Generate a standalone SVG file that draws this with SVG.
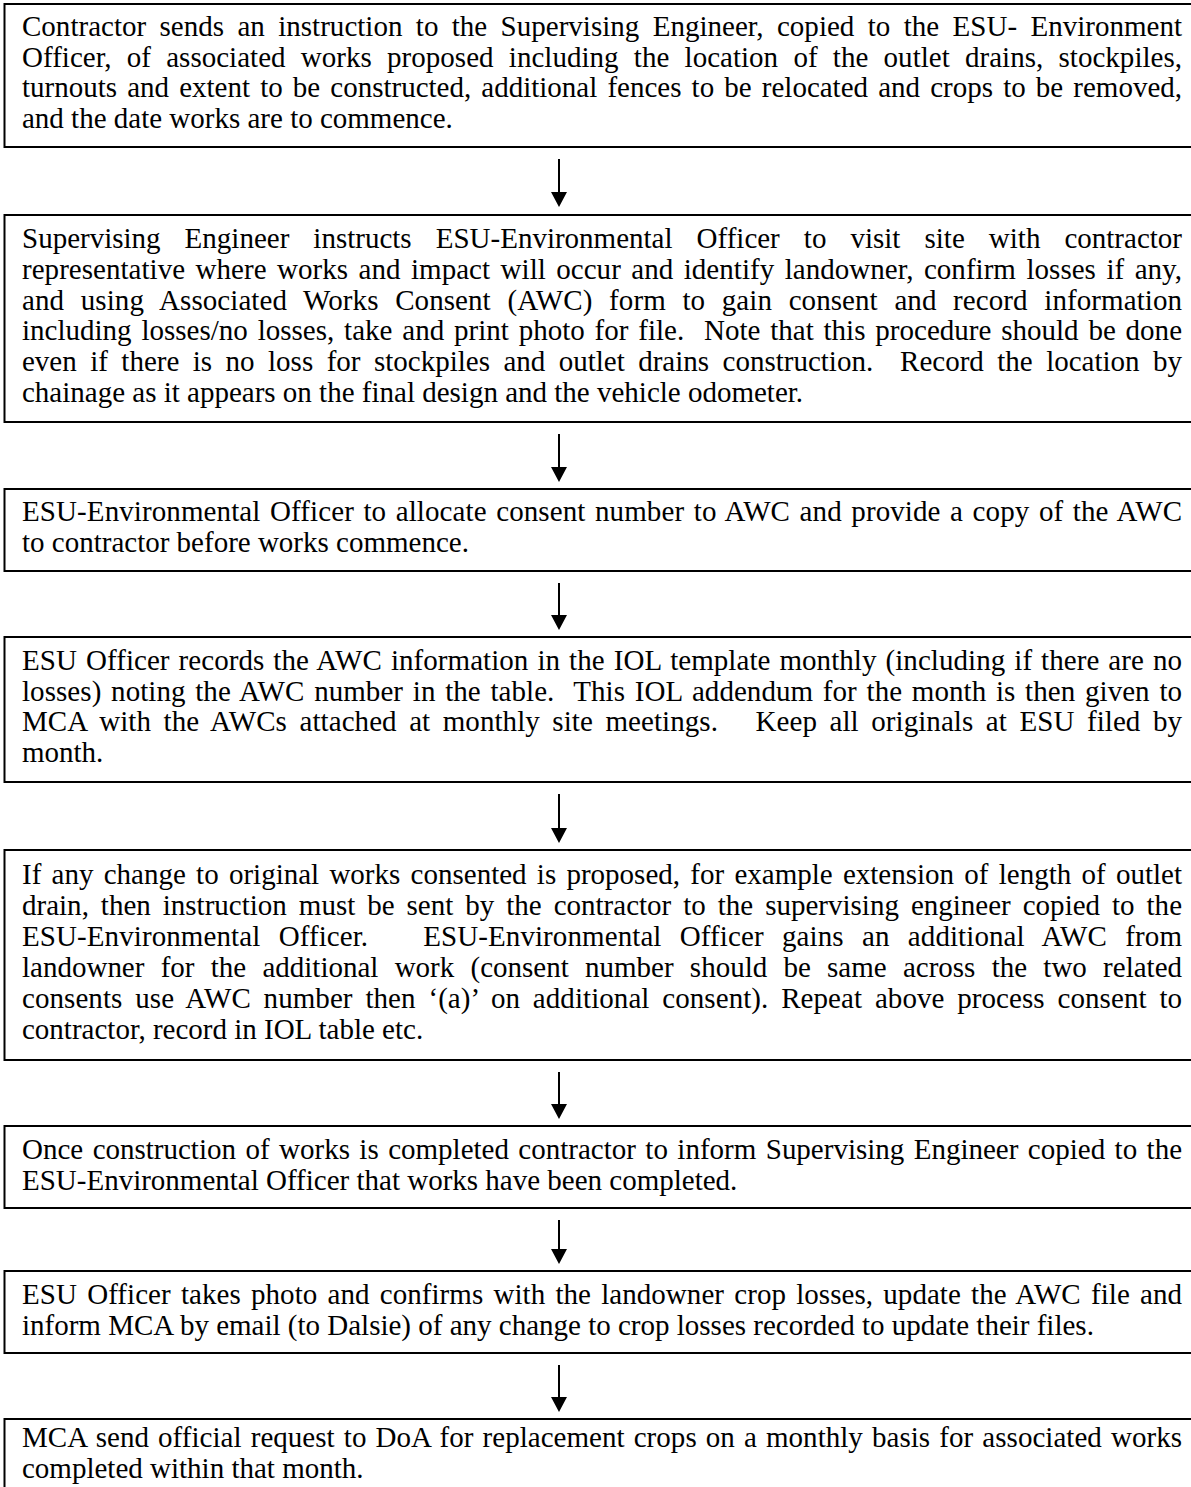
<svg xmlns="http://www.w3.org/2000/svg" width="1191" height="1487" viewBox="0 0 1191 1487">
<style>
.box{fill:#fff;stroke:#000;stroke-width:2}
.t{font-family:"Liberation Serif","Times New Roman",serif;font-size:29px;fill:#000}
.c line{stroke:#000;stroke-width:2}
.c path{fill:#000;stroke:none}
</style>
<rect width="1191" height="1487" fill="#fff"/>
<g id="node1">
<rect class="box" x="4.5" y="4" width="1200" height="143"/>
<text class="t" x="22" y="36" word-spacing="6.1" textLength="1160" lengthAdjust="spacing">Contractor sends an instruction to the Supervising Engineer, copied to the ESU- Environment</text>
<text class="t" x="22" y="66.6" word-spacing="8" textLength="1160" lengthAdjust="spacing">Officer, of associated works proposed including the location of the outlet drains, stockpiles,</text>
<text class="t" x="22" y="97.2" word-spacing="2.9" textLength="1160" lengthAdjust="spacing">turnouts and extent to be constructed, additional fences to be relocated and crops to be removed,</text>
<text class="t" x="22" y="127.8">and the date works are to commence.</text>
</g>
<g id="node2">
<rect class="box" x="4.5" y="215" width="1200" height="207"/>
<text class="t" x="22" y="248" word-spacing="16.8" textLength="1160" lengthAdjust="spacing">Supervising Engineer instructs ESU-Environmental Officer to visit site with contractor</text>
<text class="t" x="22" y="278.8" word-spacing="3.2" textLength="1160" lengthAdjust="spacing">representative where works and impact will occur and identify landowner, confirm losses if any,</text>
<text class="t" x="22" y="309.6" word-spacing="9.3" textLength="1160" lengthAdjust="spacing">and using Associated Works Consent (AWC) form to gain consent and record information</text>
<text class="t" x="22" y="340.4" word-spacing="2.6" textLength="1160" lengthAdjust="spacing">including losses/no losses, take and print photo for file.&#160; Note that this procedure should be done</text>
<text class="t" x="22" y="371.2" word-spacing="6.2" textLength="1160" lengthAdjust="spacing">even if there is no loss for stockpiles and outlet drains construction.&#160; Record the location by</text>
<text class="t" x="22" y="402">chainage as it appears on the final design and the vehicle odometer.</text>
</g>
<g id="node3">
<rect class="box" x="4.5" y="489" width="1200" height="82"/>
<text class="t" x="22" y="521" word-spacing="2.2" textLength="1160" lengthAdjust="spacing">ESU-Environmental Officer to allocate consent number to AWC and provide a copy of the AWC</text>
<text class="t" x="22" y="551.6">to contractor before works commence.</text>
</g>
<g id="node4">
<rect class="box" x="4.5" y="637" width="1200" height="145"/>
<text class="t" x="22" y="670" word-spacing="1.7" textLength="1160" lengthAdjust="spacing">ESU Officer records the AWC information in the IOL template monthly (including if there are no</text>
<text class="t" x="22" y="700.7" word-spacing="2.4" textLength="1160" lengthAdjust="spacing">losses) noting the AWC number in the table.&#160; This IOL addendum for the month is then given to</text>
<text class="t" x="22" y="731.4" word-spacing="5.2" textLength="1160" lengthAdjust="spacing">MCA with the AWCs attached at monthly site meetings.&#160;&#160; Keep all originals at ESU filed by</text>
<text class="t" x="22" y="762.1">month.</text>
</g>
<g id="node5">
<rect class="box" x="4.5" y="850" width="1200" height="210"/>
<text class="t" x="22" y="884" word-spacing="3" textLength="1160" lengthAdjust="spacing">If any change to original works consented is proposed, for example extension of length of outlet</text>
<text class="t" x="22" y="915" word-spacing="4.7" textLength="1160" lengthAdjust="spacing">drain, then instruction must be sent by the contractor to the supervising engineer copied to the</text>
<text class="t" x="22" y="946" word-spacing="11" textLength="1160" lengthAdjust="spacing">ESU-Environmental Officer.&#160;&#160; ESU-Environmental Officer gains an additional AWC from</text>
<text class="t" x="22" y="977" word-spacing="9" textLength="1160" lengthAdjust="spacing">landowner for the additional work (consent number should be same across the two related</text>
<text class="t" x="22" y="1008" word-spacing="5.5" textLength="1160" lengthAdjust="spacing">consents use AWC number then ‘(a)’ on additional consent). Repeat above process consent to</text>
<text class="t" x="22" y="1039">contractor, record in IOL table etc.</text>
</g>
<g id="node6">
<rect class="box" x="4.5" y="1126" width="1200" height="82"/>
<text class="t" x="22" y="1159" word-spacing="2.2" textLength="1160" lengthAdjust="spacing">Once construction of works is completed contractor to inform Supervising Engineer copied to the</text>
<text class="t" x="22" y="1189.6">ESU-Environmental Officer that works have been completed.</text>
</g>
<g id="node7">
<rect class="box" x="4.5" y="1271" width="1200" height="82"/>
<text class="t" x="22" y="1304" word-spacing="2.9" textLength="1160" lengthAdjust="spacing">ESU Officer takes photo and confirms with the landowner crop losses, update the AWC file and</text>
<text class="t" x="22" y="1334.6">inform MCA by email (to Dalsie) of any change to crop losses recorded to update their files.</text>
</g>
<g id="node8">
<rect class="box" x="4.5" y="1419" width="1200" height="100"/>
<text class="t" x="22" y="1447" word-spacing="1.8" textLength="1160" lengthAdjust="spacing">MCA send official request to DoA for replacement crops on a monthly basis for associated works</text>
<text class="t" x="22" y="1477.6">completed within that month.</text>
</g>
<g id="connectors" class="c">
<line x1="559" y1="159" x2="559" y2="195"/><path d="M551 192 L567 192 L559 207 Z"/>
<line x1="559" y1="434" x2="559" y2="470"/><path d="M551 467 L567 467 L559 482 Z"/>
<line x1="559" y1="583" x2="559" y2="618"/><path d="M551 615 L567 615 L559 630 Z"/>
<line x1="559" y1="794" x2="559" y2="831"/><path d="M551 828 L567 828 L559 843 Z"/>
<line x1="559" y1="1072" x2="559" y2="1107"/><path d="M551 1104 L567 1104 L559 1119 Z"/>
<line x1="559" y1="1220" x2="559" y2="1252"/><path d="M551 1249 L567 1249 L559 1264 Z"/>
<line x1="559" y1="1365" x2="559" y2="1400"/><path d="M551 1397 L567 1397 L559 1412 Z"/>
</g>
</svg>
